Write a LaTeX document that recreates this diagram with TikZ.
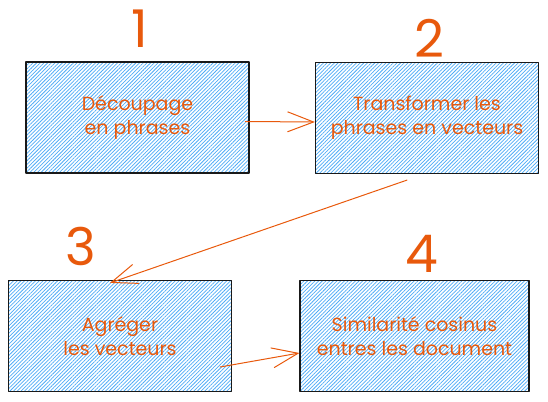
\documentclass[tikz,border=0pt]{standalone}
\usepackage{fontspec}
\setmainfont{Poppins}
\usetikzlibrary{patterns.meta,arrows.meta}
\definecolor{sketchorange}{HTML}{E8590C}
\definecolor{sketchblue}{HTML}{4DABF7}
\tikzset{
  stagebox/.style={draw=black!90, line width=1.2pt, minimum width=223pt, minimum height=111pt,
    pattern={Lines[angle=45,distance=2.6pt,line width=0.75pt]}, pattern color=sketchblue,
    text=sketchorange, align=center, font=\fontsize{19}{24}\selectfont},
  stagenum/.style={text=sketchorange, font=\fontsize{52}{52}\selectfont},
  flow/.style={draw=sketchorange, line width=1pt, -{Straight Barb[length=26pt,width=20pt]}}
}
\begin{document}
\begin{tikzpicture}[x=1pt, y=-1pt, line join=round, line cap=round]
\useasboundingbox (0,0) rectangle (548,401);
% etapes
\node[stagebox] (decoupage) at (137.5,117.5) {Découpage\\en phrases};
\node[stagebox] (transform) at (427,118) {Transformer les\\phrases en vecteurs};
\node[stagebox] (agreger) at (120,336) {Agréger\\les vecteurs};
\node[stagebox, minimum width=229pt] (cosinus) at (414.5,336) {Similarité cosinus\\entres les document};
% numeros
\node[stagenum] (n1) at (140,29) {1};
\node[stagenum] (n2) at (429,38) {2};
\node[stagenum] (n3) at (81,246) {3};
\node[stagenum] (n4) at (422,254) {4};
% fleches
\draw[flow] ([shift={(-4,4)}]decoupage.east) -- ([yshift=-4pt]transform.west);
\draw[flow] ([shift={(-20,6)}]transform.south) -- ([shift={(-10,3)}]agreger.north);
\draw[flow] ([shift={(-12,31)}]agreger.east) -- ([yshift=-17pt]cosinus.west);
\end{tikzpicture}
\end{document}
